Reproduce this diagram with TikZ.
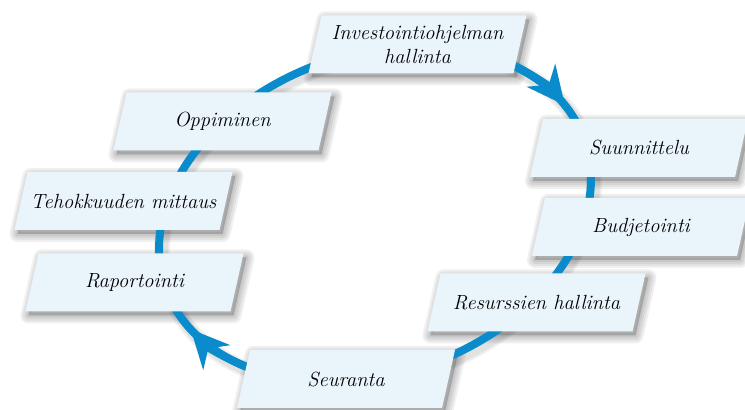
\documentclass[tikz,border=0pt]{standalone}
\usetikzlibrary{arrows.meta}
\definecolor{ringblue}{HTML}{0A8BCB}
\definecolor{boxfill}{HTML}{EAF4FB}
\newcommand\boxshade[1]{%
  \begin{scope}[shift={(#1)}]
    \begin{scope}[xshift=3pt,yshift=-4pt]
      \fill[black,opacity=0.18] (-109,-29) -- (96,-29) -- (109,29) -- (-96,29) -- cycle;
      \foreach \w in {16,12,8,4}
        \draw[black,opacity=0.06,line width=\w pt,line join=round] (-109,-29) -- (96,-29) -- (109,29) -- (-96,29) -- cycle;
    \end{scope}
  \end{scope}}
\newcommand\ringbox[3]{%
  \begin{scope}[shift={(#2)}]
    \fill[boxfill] (-109,-29) -- (96,-29) -- (109,29) -- (-96,29) -- cycle;
    \node[boxtext] (#1) at (0,0) {#3};
  \end{scope}}
\begin{document}
\begin{tikzpicture}[x=1pt,y=1pt,
  boxtext/.style={align=center,font=\fontsize{20.5}{24}\selectfont\itshape,inner sep=0pt},
  ring/.style={draw=ringblue,line width=8pt},
  tipstyle/.style={-{Stealth[length=38pt,width=36pt,inset=12pt]}}]
\useasboundingbox (0,0) rectangle (745,410);
\clip (0,0) rectangle (745,410);
\coordinate (p-inv) at (417.5,365.5);
\coordinate (p-suu) at (639,262);
\coordinate (p-bud) at (641,183);
\coordinate (p-res) at (536.5,107.5);
\coordinate (p-seu) at (346,31);
\coordinate (p-opp) at (222.5,288.5);
\coordinate (p-teh) at (123.5,209);
\coordinate (p-rap) at (134.5,127.5);
% box shadows
\foreach \c in {p-inv,p-suu,p-bud,p-res,p-seu,p-opp,p-teh,p-rap} {\boxshade{\c}}
% ring shadow
\begin{scope}[shift={(378,192)}, rotate=19.6]
  \foreach \w in {16,12} \draw[black,opacity=0.06,line width=\w pt] (0,0) ellipse [x radius=222, y radius=160];
\end{scope}
% ring
\begin{scope}[shift={(375,196)}, rotate=19.6]
  \draw[ring] (0,0) ellipse [x radius=222, y radius=160];
  \draw[ring,tipstyle] (36:222 and 160) arc[start angle=36, end angle=14, x radius=222, y radius=160];
  \draw[ring,tipstyle] (220:222 and 160) arc[start angle=220, end angle=197, x radius=222, y radius=160];
\end{scope}
% boxes
\ringbox{inv}{p-inv}{Investointiohjelman\\hallinta}
\ringbox{suu}{p-suu}{Suunnittelu}
\ringbox{bud}{p-bud}{Budjetointi}
\ringbox{res}{p-res}{Resurssien hallinta}
\ringbox{seu}{p-seu}{Seuranta}
\ringbox{opp}{p-opp}{Oppiminen}
\ringbox{teh}{p-teh}{Tehokkuuden mittaus}
\ringbox{rap}{p-rap}{Raportointi}
\end{tikzpicture}
\end{document}
